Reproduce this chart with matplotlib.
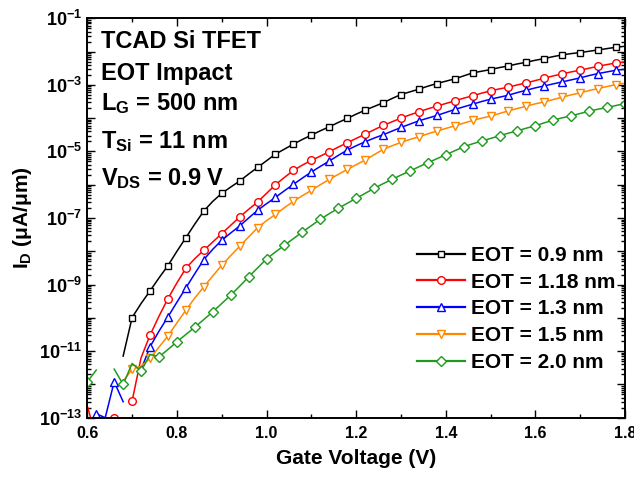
import numpy as np
import matplotlib
matplotlib.use('Agg')
import matplotlib.pyplot as plt
from matplotlib.lines import Line2D
from matplotlib.ticker import MultipleLocator, LogLocator, NullFormatter

plt.rcParams['font.family'] = ['Liberation Sans', 'DejaVu Sans']
plt.rcParams['font.weight'] = 'bold'
plt.rcParams['mathtext.fontset'] = 'custom'
plt.rcParams['mathtext.rm'] = 'Liberation Sans:bold'
plt.rcParams['mathtext.it'] = 'Liberation Sans:bold'
plt.rcParams['mathtext.bf'] = 'Liberation Sans:bold'

# gate sweep, 20 mV step
vg = np.round(np.linspace(0.6, 1.8, 61), 2)
nan = np.nan

# log10(I_D) in uA/um, one value per gate voltage (nan = negative / not simulated)
log_id_090 = [nan, nan, nan, nan, -11.15, -9.99, -9.57, -9.19, -8.80, -8.43,
              -8.00, -7.59, -7.18, -6.79, -6.50, -6.26, -6.07, -5.89, -5.68, -5.48,
              -5.28, -5.08, -4.93, -4.78, -4.64, -4.51, -4.38, -4.26, -4.13, -4.01,
              -3.88, -3.76, -3.65, -3.54, -3.41, -3.29, -3.21, -3.13, -3.04, -2.96,
              -2.89, -2.82, -2.73, -2.64, -2.59, -2.54, -2.48, -2.43, -2.37, -2.32,
              -2.26, -2.21, -2.15, -2.10, -2.06, -2.03, -1.99, -1.95, -1.91, -1.87,
              -1.84]
log_id_118 = [-12.65, -13.6, nan, -13.0, nan, -12.50, -11.20, -10.52, -9.95, -9.42,
              -8.95, -8.51, -8.22, -7.97, -7.72, -7.47, -7.22, -6.97, -6.74, -6.52,
              -6.26, -6.00, -5.78, -5.57, -5.41, -5.27, -5.14, -5.01, -4.87, -4.74,
              -4.61, -4.48, -4.35, -4.22, -4.11, -4.00, -3.90, -3.81, -3.72, -3.64,
              -3.56, -3.48, -3.40, -3.33, -3.25, -3.18, -3.12, -3.07, -3.00, -2.94,
              -2.87, -2.80, -2.73, -2.67, -2.61, -2.56, -2.50, -2.44, -2.39, -2.34,
              -2.31]
log_id_130 = [nan, -12.88, -13.0, -11.92, -12.52, nan, -11.55, -10.87, -10.40, -9.97,
              -9.53, -9.10, -8.67, -8.25, -7.94, -7.67, -7.45, -7.24, -7.00, -6.77,
              -6.57, -6.38, -6.18, -5.99, -5.80, -5.62, -5.45, -5.29, -5.12, -4.96,
              -4.83, -4.71, -4.60, -4.50, -4.39, -4.28, -4.18, -4.08, -4.00, -3.92,
              -3.83, -3.74, -3.66, -3.58, -3.50, -3.43, -3.37, -3.31, -3.23, -3.16,
              -3.09, -3.03, -2.97, -2.91, -2.85, -2.79, -2.72, -2.66, -2.61, -2.56,
              -2.53]
log_id_150 = [nan, nan, nan, nan, -11.90, -11.55, -11.45, -11.22, -10.88, -10.54,
              -10.15, -9.77, -9.40, -9.07, -8.74, -8.42, -8.13, -7.85, -7.57, -7.29,
              -7.08, -6.89, -6.69, -6.50, -6.33, -6.17, -6.00, -5.84, -5.69, -5.54,
              -5.40, -5.26, -5.10, -4.94, -4.83, -4.73, -4.64, -4.56, -4.47, -4.39,
              -4.31, -4.23, -4.15, -4.07, -4.00, -3.94, -3.86, -3.78, -3.71, -3.64,
              -3.57, -3.51, -3.44, -3.37, -3.30, -3.24, -3.17, -3.11, -3.05, -2.99,
              -2.95]
log_id_200 = [-11.92, -11.57, nan, -11.54, -12.00, -11.37, -11.60, -11.10, -11.17, -10.95,
              -10.72, -10.50, -10.28, -10.05, -9.82, -9.57, -9.32, -9.05, -8.77, -8.50,
              -8.23, -8.02, -7.82, -7.62, -7.42, -7.23, -7.04, -6.87, -6.71, -6.56,
              -6.41, -6.26, -6.11, -5.97, -5.84, -5.71, -5.59, -5.46, -5.34, -5.22,
              -5.10, -4.98, -4.86, -4.77, -4.69, -4.61, -4.53, -4.45, -4.38, -4.30,
              -4.23, -4.14, -4.06, -3.99, -3.93, -3.86, -3.79, -3.73, -3.68, -3.62,
              -3.56]

labels = ['EOT = 0.9 nm', 'EOT = 1.18 nm', 'EOT = 1.3 nm', 'EOT = 1.5 nm', 'EOT = 2.0 nm']
colors = ['black', '#FF0000', '#0000FF', '#FF8800', '#1E9A1E']
markers = ['s', 'o', '^', 'v', 'D']
msizes = [5, 5.5, 6, 6, 4.6]
mark_start = [1, 1, 1, 1, 0]
curves = [log_id_090, log_id_118, log_id_130, log_id_150, log_id_200]

fig = plt.figure(figsize=(6.34, 4.78), dpi=100)
ax = fig.add_axes([87.3 / 634, 1 - 417.7 / 478, (625 - 87.3) / 634, (417.7 - 18.3) / 478])

handles = []
for logi, c, m, ms, st, lab in zip(curves, colors, markers, msizes, mark_start, labels):
    ax.plot(vg, 10.0 ** np.array(logi), color=c, lw=1.1, marker=m, ms=ms,
            mfc='white', mec=c, mew=1.0, markevery=(st, 2))
    handles.append(Line2D([], [], color=c, lw=1.6, marker=m, ms=ms,
                          mfc='white', mec=c, mew=1.0))

ax.set_yscale('log')
ax.set_xlim(0.6, 1.8)
ax.set_ylim(1e-13, 1e-1)

ax.xaxis.set_major_locator(MultipleLocator(0.2))
ax.xaxis.set_minor_locator(MultipleLocator(0.1))
ax.set_xticks(np.round(np.arange(0.6, 1.81, 0.2), 1))
ax.set_xticklabels(['%.1f' % v for v in np.round(np.arange(0.6, 1.81, 0.2), 1)])

exps = np.arange(-13, 0)
ax.set_yticks(10.0 ** exps)
ax.set_yticklabels([r'$10^{%d}$' % e if e % 2 else '' for e in exps])
ax.yaxis.set_minor_locator(LogLocator(base=10, subs=np.arange(2, 10), numticks=50))
ax.yaxis.set_minor_formatter(NullFormatter())

ax.tick_params(which='both', direction='in', top=True, right=True, width=1.0)
ax.tick_params(which='major', length=6)
ax.tick_params(which='minor', length=3)
ax.tick_params(axis='x', which='major', labelsize=11.5, pad=6)
ax.tick_params(axis='y', which='major', labelsize=13, pad=4)
for sp in ax.spines.values():
    sp.set_linewidth(1.4)

ax.set_xlabel('Gate Voltage (V)', fontsize=15, fontweight='bold', labelpad=6)
ax.set_ylabel(r'I$_{\mathrm{D}}$ (μA/μm)', fontsize=15, fontweight='bold', labelpad=3)

# device / bias annotations
notes = [('TCAD Si TFET', 48.3), ('EOT Impact', 80.0),
         (r'L$_{\mathrm{G}}$ = 500 nm', 110.0), (r'T$_{\mathrm{Si}}$ = 11 nm', 148.3),
         (r'V$_{\mathrm{DS}}$ = 0.9 V', 185.5)]
for s, yb in notes:
    fig.text(100.7 / 634, 1 - yb / 478, s, fontsize=17, fontweight='bold',
             ha='left', va='baseline')

ax.legend(handles, labels, loc='upper left', bbox_to_anchor=(416.7 / 634, 1 - 246 / 478),
          bbox_transform=fig.transFigure, frameon=False, fontsize=15,
          handlelength=2.3, handletextpad=0.3, labelspacing=0.37,
          borderpad=0, borderaxespad=0)

fig.savefig('out.png', dpi=100)
